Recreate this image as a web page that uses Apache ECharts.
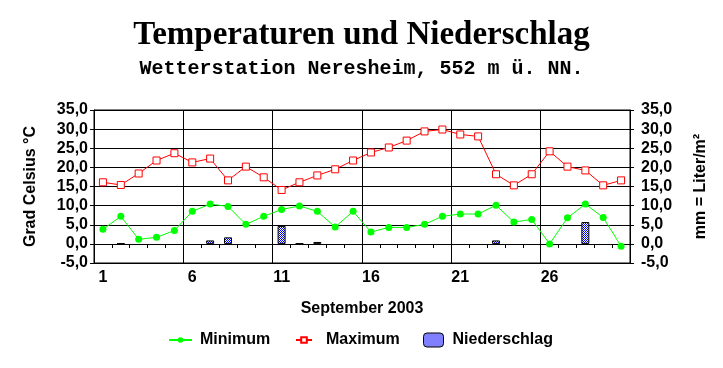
<!DOCTYPE html>
<html><head><meta charset="utf-8">
<script src="https://cdn.jsdelivr.net/npm/echarts@6/dist/echarts.min.js"></script>
<style>html,body{margin:0;padding:0;background:#fff}#c{width:723px;height:368px}</style>
</head><body><div id="c"></div>
<script>
const days = ['1','2','3','4','5','6','7','8','9','10','11','12','13','14','15','16','17','18','19','20','21','22','23','24','25','26','27','28','29','30'];
const tMin = [3.8,7.2,1.2,1.7,3.5,8.5,10.4,9.8,5.1,7.2,9.0,9.9,8.5,4.4,8.5,3.1,4.3,4.3,5.1,7.2,7.8,7.8,10.1,5.7,6.4,0.0,6.8,10.4,6.9,-0.6];
const tMax = [16.1,15.4,18.4,21.8,23.7,21.3,22.3,16.6,20.2,17.4,14.1,16.1,17.9,19.5,21.8,23.9,25.2,27.0,29.4,29.9,28.6,28.1,18.2,15.3,18.2,24.2,20.2,19.2,15.3,16.6];
const rain = [0,0.1,0,0,0,0,0.9,1.7,0,0,4.7,0.1,0.5,0,0,0,0,0,0,0,0,0,0.9,0,0,0,0,5.7,0,0];

const pc = document.createElement('canvas'); pc.width = 2; pc.height = 2;
const g = pc.getContext('2d');
g.fillStyle = '#ffffff'; g.fillRect(0,0,2,2);
g.fillStyle = '#0000ff'; g.fillRect(0,0,1,1); g.fillRect(1,1,1,1);
const pattern = {image: pc, repeat: 'repeat'};

const sans = 'Liberation Sans, Arial, sans-serif';
const fmt = v => v.toFixed(1).replace('.', ',');
const lbl = {fontFamily: sans, fontSize: 16, fontWeight: 'bold', color: '#000'};

const chart = echarts.init(document.getElementById('c'), null, {renderer: 'canvas'});
chart.setOption({
  animation: false,
  backgroundColor: '#fff',
  title: [
    {text: 'Temperaturen und Niederschlag', left: 'center', top: 19, padding: 0,
     textStyle: {fontFamily: 'Liberation Serif', fontWeight: 'bold', fontSize: 33, color: '#000'}},
    {text: 'Wetterstation Neresheim, 552 m ü. NN.', left: 'center', top: 59, padding: 0,
     textStyle: {fontFamily: 'Liberation Mono', fontWeight: 'bold', fontSize: 20, color: '#000'}}
  ],
  legend: [
    {data: ['Minimum'], left: 168, top: 332, itemWidth: 23, itemHeight: 7, padding: 0,
     textStyle: Object.assign({padding: [0,0,0,3]}, lbl)},
    {data: ['Maximum'], left: 295, top: 332, itemWidth: 16, itemHeight: 7, padding: 0,
     textStyle: Object.assign({padding: [0,0,0,9]}, lbl)},
    {data: ['Niederschlag'], left: 423, top: 332, itemWidth: 20, itemHeight: 14, padding: 0,
     itemStyle: {color: pattern, borderColor: '#000', borderWidth: 1},
     textStyle: Object.assign({padding: [0,0,0,4]}, lbl)}
  ],
  grid: {left: 94, right: 93, top: 110, bottom: 105, show: true, borderColor: '#000', borderWidth: 1},
  xAxis: {
    type: 'category', data: days, boundaryGap: true, position: 'bottom', offset: -19,
    name: 'September 2003', nameLocation: 'middle', nameGap: 57, nameTextStyle: lbl,
    axisLine: {onZero: false, lineStyle: {color: '#000', width: 1}},
    axisTick: {show: true, interval: 0, length: 4, lineStyle: {color: '#000'}},
    axisLabel: Object.assign({interval: 4, margin: 26}, lbl),
    splitLine: {show: true, interval: 4, lineStyle: {color: '#000', width: 1}}
  },
  yAxis: [
    {type: 'value', min: -5, max: 35, interval: 5, position: 'left',
     name: 'Grad Celsius °C', nameLocation: 'middle', nameGap: 55, nameRotate: 90, nameTextStyle: lbl,
     axisLine: {show: true, onZero: false, lineStyle: {color: '#000'}},
     axisTick: {show: true, length: 4, lineStyle: {color: '#000'}},
     axisLabel: Object.assign({formatter: fmt, margin: 6}, lbl),
     splitLine: {show: true, lineStyle: {color: '#000', width: 1}}},
    {type: 'value', min: -5, max: 35, interval: 5, position: 'right',
     name: 'mm = Liter/m²', nameLocation: 'middle', nameGap: 63, nameRotate: 90, nameTextStyle: lbl,
     axisLine: {show: true, onZero: false, lineStyle: {color: '#000'}},
     axisTick: {show: true, length: 4, lineStyle: {color: '#000'}},
     axisLabel: Object.assign({formatter: fmt, margin: 11}, lbl),
     splitLine: {show: false}}
  ],
  series: [
    {name: 'Niederschlag', type: 'bar', yAxisIndex: 1, data: rain.map(v => v === 0 ? null : v), barWidth: 8, z: 1,
     itemStyle: {color: pattern, borderColor: '#000', borderWidth: 1}},
    {name: 'Minimum', type: 'line', data: tMin, symbol: 'circle', symbolSize: 7, z: 3,
     lineStyle: {color: '#00ff00', width: 1}, itemStyle: {color: '#00ff00'}},
    {name: 'Maximum', type: 'line', data: tMax, symbol: 'rect', symbolSize: 7, z: 3,
     lineStyle: {color: '#ff0000', width: 1}, itemStyle: {color: '#ffffff', borderColor: '#ff0000', borderWidth: 1}}
  ]
});
</script></body></html>
